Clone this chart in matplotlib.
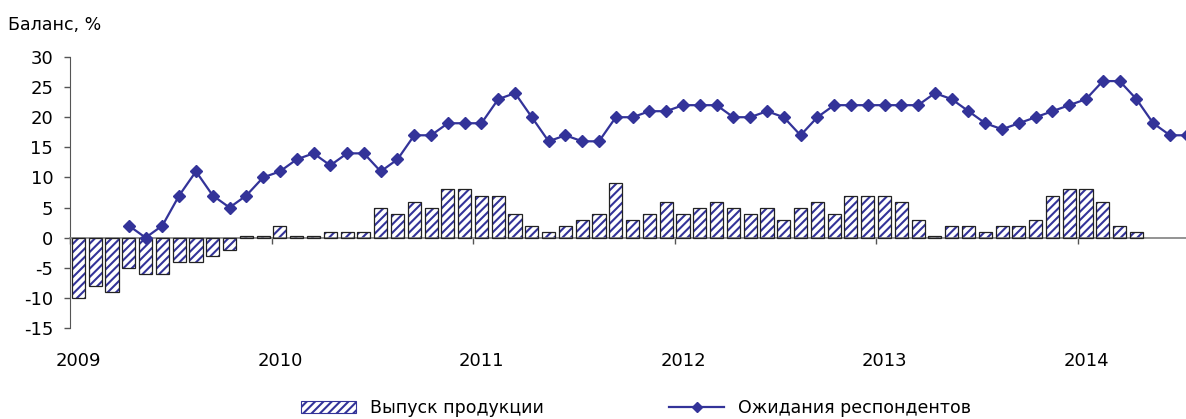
import matplotlib
matplotlib.use("Agg")
import matplotlib.pyplot as plt
import matplotlib.patches as mpatches
from matplotlib.lines import Line2D
import numpy as np

plt.rcParams['font.family'] = ['DejaVu Sans']
plt.rcParams['axes.unicode_minus'] = False
plt.rcParams['hatch.linewidth'] = 1.5

# monthly data, Jan 2009 ...
years = ['2009', '2010', '2011', '2012', '2013', '2014']

output = [-10, -8, -9, -5, -6, -6, -4, -4, -3, -2, 0.3, 0.3,    # 2009
          2, 0.3, 0.3, 1, 1, 1, 5, 4, 6, 5, 8, 8,              # 2010
          7, 7, 4, 2, 1, 2, 3, 4, 9, 3, 4, 6,                  # 2011
          4, 5, 6, 5, 4, 5, 3, 5, 6, 4, 7, 7,                  # 2012
          7, 6, 3, 0.3, 2, 2, 1, 2, 2, 3, 7, 8,                # 2013
          8, 6, 2, 1]                                          # 2014

# expectations start in Apr 2009
expect_start = 3
expect = [2, 0, 2, 7, 11, 7, 5, 7, 10,                         # 2009
          11, 13, 14, 12, 14, 14, 11, 13, 17, 17, 19, 19,      # 2010
          19, 23, 24, 20, 16, 17, 16, 16, 20, 20, 21, 21,      # 2011
          22, 22, 22, 20, 20, 21, 20, 17, 20, 22, 22, 22,      # 2012
          22, 22, 22, 24, 23, 21, 19, 18, 19, 20, 21, 22,      # 2013
          23, 26, 26, 23, 19, 17, 17]                          # 2014

navy = '#333399'

fig = plt.figure(figsize=(11.86, 4.19), dpi=100)
ax = fig.add_axes([70/1186, 91/419, 1142/1186, 271/419])

xb = np.arange(len(output))
ax.bar(xb, output, width=0.78, color='white', edgecolor=navy, hatch='////',
       linewidth=0, zorder=2)
ax.bar(xb, output, width=0.78, color='none', edgecolor='#222222',
       linewidth=0.9, zorder=3)

xl = np.arange(expect_start, expect_start + len(expect))
ax.plot(xl, expect, color=navy, lw=1.6, marker='D', ms=6.5, zorder=4)

ax.set_xlim(-0.5, 67.5)
ax.set_ylim(-15, 30)
ax.set_yticks(np.arange(-15, 31, 5))
ax.tick_params(axis='y', length=4.5, width=1, color='#555555', pad=7.5,
               labelsize=13)

ax.spines['top'].set_visible(False)
ax.spines['right'].set_visible(False)
ax.spines['left'].set_color('#555555')
ax.spines['bottom'].set_position(('data', 0))
ax.spines['bottom'].set_color('#808080')
ax.spines['bottom'].set_linewidth(1.2)

# year boundary ticks on the zero line, labels under the Jan bar
ax.set_xticks([12 * i - 0.5 for i in range(len(years))])
ax.tick_params(axis='x', length=4, width=1, color='#555555', labelbottom=False)
for i, y in enumerate(years):
    ax.text(12 * i, -0.122, y, transform=ax.get_xaxis_transform(),
            ha='center', va='center', fontsize=13)

fig.text(8/1186, 1 - 25/419, 'Баланс, %', ha='left', va='center', fontsize=12.5)

h1 = mpatches.Patch(facecolor='white', edgecolor=navy, hatch='////', linewidth=0.8)
h2 = Line2D([], [], color=navy, lw=1.6, marker='D', ms=5)
fig.legend([h1, h2], ['Выпуск продукции', 'Ожидания респондентов'],
           loc='center', bbox_to_anchor=(636/1186, 11/419), ncol=2,
           frameon=False, fontsize=12.5, handlelength=3.2, handletextpad=0.8,
           columnspacing=7.2, handleheight=0.7)

fig.savefig('out.png', dpi=100)
